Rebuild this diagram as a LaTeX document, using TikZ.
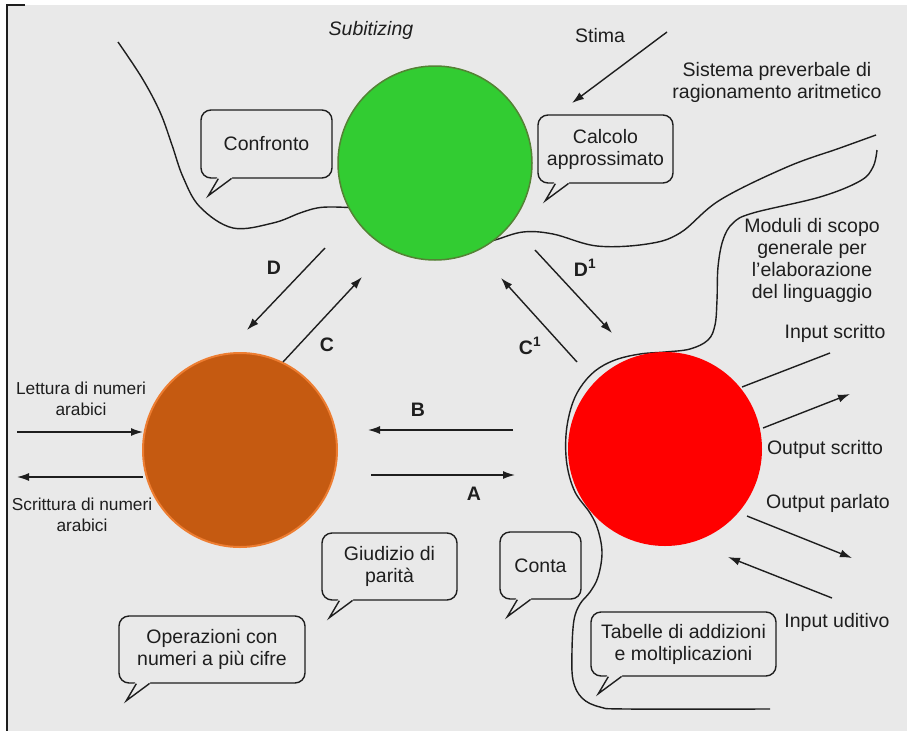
\documentclass[tikz,border=0pt]{standalone}
\usepackage{fontspec}
\setmainfont{Liberation Sans}
\usetikzlibrary{arrows.meta,calc}
\definecolor{pagebg}{RGB}{233,233,233}
\definecolor{ink}{RGB}{30,30,30}
\definecolor{gfill}{RGB}{50,204,50}
\definecolor{gedge}{RGB}{84,130,53}
\definecolor{ofill}{RGB}{197,90,17}
\definecolor{oedge}{RGB}{237,125,49}
\definecolor{rfill}{RGB}{255,0,0}

% speech-bubble tail hanging from the lower left corner of a node
\newcommand\bubbletail[1]{%
  \fill[pagebg] ($(#1.south west)+(17,-1.5)$) -- ($(#1.south west)+(8,17)$) -- ($(#1.south west)+(32,-1.5)$) -- cycle;
  \draw[tailline] ($(#1.south west)+(18,0)$) -- ($(#1.south west)+(8,17)$) -- ($(#1.south west)+(31,0)$);
}

\begin{document}
\begin{tikzpicture}[x=1pt,y=-1pt,
  every node/.style={font=\fontsize{19.5}{22}\selectfont, text=ink, align=center, inner sep=0pt},
  sep/.style={draw=ink, line width=1.4pt},
  arr/.style={draw=ink, line width=1.4pt, -{Latex[length=12pt,width=8pt]}},
  plain/.style={draw=ink, line width=1.4pt},
  bubble/.style={draw=ink, line width=1.4pt, rounded corners=10pt, fill=pagebg},
  tailline/.style={draw=ink, line width=1.4pt, line join=miter},
  lbl/.style={font=\fontsize{19.5}{22}\selectfont\bfseries},
  small/.style={font=\fontsize{17.3}{21}\selectfont},
  disc/.style={circle, minimum size=194pt, inner sep=0pt}
]
\useasboundingbox (0,0) rectangle (907,731);

% page
\fill[white] (0,0) rectangle (907,731);
\fill[pagebg] (7,5) rectangle (907,731);
\draw[ink, line width=1.6pt] (25,5) -- (7,5) -- (7,731);

% region boundaries
\draw[sep] plot[smooth, tension=0.6] coordinates {
  (118,42) (142,78) (160,112) (172,145) (183,177) (200,207) (233,228)
  (273,223) (300,213) (317,208) (333,207) (360,208)};
\draw[sep] plot[smooth, tension=0.6] coordinates {
  (480,243) (495,240) (523,232) (553,234) (597,246) (647,244) (680,233)
  (720,200) (787,167) (840,148) (876,135)};
\draw[sep] plot[smooth, tension=0.6] coordinates {
  (877,150) (873,167) (860,181) (820,197) (753,213) (733,223) (723,240)
  (718,267) (717,300) (715,325) (708,340) (690,349) (665,352) (640,354)
  (615,360) (595,371) (580,388) (571,408) (566,435) (567,465) (575,492)
  (590,513) (598,530) (602,553) (598,577) (590,592) (580,604) (574,620)
  (572,650) (573,680) (582,698) (600,707) (627,709) (770,709)};

% modules
\node[disc, fill=gfill, draw=gedge, line width=1.5pt] (num) at (435,163) {};
\node[disc, fill=ofill, draw=oedge, line width=2pt] (arab) at (240,450) {};
\node[disc, fill=rfill] (verb) at (665,449) {};

% connector end points
\coordinate (stimaS) at (667,32);   \coordinate (stimaE) at (572,103);
\coordinate (dS) at (325,248);      \coordinate (dE) at (247,330);
\coordinate (cS) at (283,362);      \coordinate (cE) at (362,277);
\coordinate (c1S) at (577,362);     \coordinate (c1E) at (501,278);
\coordinate (d1S) at (535,250);     \coordinate (d1E) at (612,333);
\coordinate (bS) at (513,430);      \coordinate (bE) at (368,430);
\coordinate (aS) at (371,475);      \coordinate (aE) at (515,475);
\coordinate (letS) at (17,432);     \coordinate (letE) at (143,432);
\coordinate (scrS) at (143,477);    \coordinate (scrE) at (17,477);
\coordinate (inwS) at (830,353);    \coordinate (inwE) at (742,387);
\coordinate (outwS) at (763,428);   \coordinate (outwE) at (850,394);
\coordinate (outpS) at (747,516);   \coordinate (outpE) at (852,558);
\coordinate (inaS) at (832,598);    \coordinate (inaE) at (728,557);

\draw[arr] (stimaS) -- (stimaE);
\draw[arr] (dS) -- (dE);
\draw[arr] (cS) -- (cE);
\draw[arr] (c1S) -- (c1E);
\draw[arr] (d1S) -- (d1E);
\draw[arr] (bS) -- (bE);
\draw[arr] (aS) -- (aE);
\draw[arr] (letS) -- (letE);
\draw[arr] (scrS) -- (scrE);
\draw[plain] (inwS) -- (inwE);
\draw[arr] (outwS) -- (outwE);
\draw[arr] (outpS) -- (outpE);
\draw[arr] (inaS) -- (inaE);

% connector labels
\node[lbl] (labD) at (274,268) {D};
\node[lbl] (labC) at (327,345) {C};
\node[lbl] (labD1) at (585,268) {D$^{\mathbf{1}}$};
\node[lbl] (labC1) at (530,346) {C$^{\mathbf{1}}$};
\node[lbl] (labB) at (418,410) {B};
\node[lbl] (labA) at (474,494) {A};

% speech bubbles
\node[bubble, minimum width=131pt, minimum height=68pt] (conf) at (266.5,144) {Confronto};
\node[bubble, minimum width=135pt, minimum height=68pt] (calc) at (605.5,149) {Calcolo\\approssimato};
\node[bubble, minimum width=135pt, minimum height=67pt] (par) at (389.5,566.5) {Giudizio di\\parità};
\node[bubble, minimum width=81pt, minimum height=67pt] (conta) at (540.5,565.5) {Conta};
\node[bubble, minimum width=186pt, minimum height=67pt] (oper) at (212,649.5) {Operazioni con\\numeri a più cifre};
\node[bubble, minimum width=185pt, minimum height=64pt] (tab) at (683.5,644) {Tabelle di addizioni\\e moltiplicazioni};
\bubbletail{conf}
\bubbletail{calc}
\bubbletail{par}
\bubbletail{conta}
\bubbletail{oper}
\bubbletail{tab}

% free labels
\node[font=\fontsize{19.5}{22}\selectfont\itshape] (subit) at (371,30) {Subitizing};
\node (stima) at (600,36) {Stima};
\node (prev) at (777,82) {Sistema preverbale di\\ragionamento aritmetico};
\node (lang) at (812,260) {Moduli di scopo\\generale per\\l'elaborazione\\del linguaggio};
\node (inw) at (835,333) {Input scritto};
\node (outw) at (825,449) {Output scritto};
\node (outp) at (828,503) {Output parlato};
\node (ina) at (837,622) {Input uditivo};
\node[small] (lett) at (81,399) {Lettura di numeri\\arabici};
\node[small] (scri) at (82,515) {Scrittura di numeri\\arabici};
\end{tikzpicture}
\end{document}
